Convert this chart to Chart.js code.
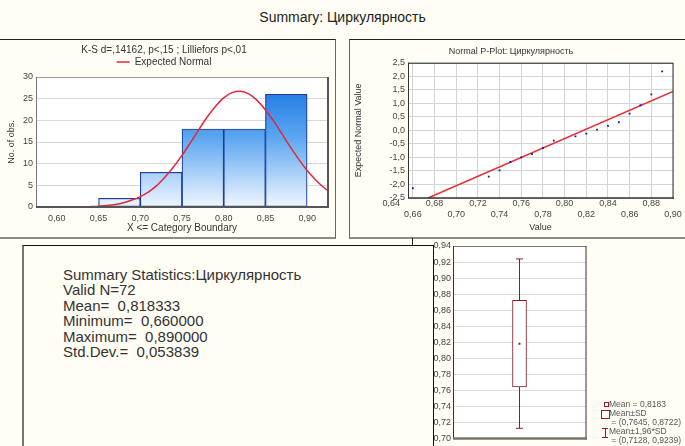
<!DOCTYPE html>
<html>
<head>
<meta charset="utf-8">
<title>Summary: Циркулярность</title>
<script src="https://cdn.jsdelivr.net/npm/chart.js@4.4.1/dist/chart.umd.min.js"></script>
<style>
  body { margin: 0; background: #fffdf4; font-family: "Liberation Sans", Arial, sans-serif; }
  #page { position: relative; width: 685px; height: 446px; overflow: hidden; background: #fffdf4; }
  .abs { position: absolute; }
  #mainTitle { left: 0; top: 9px; width: 685px; text-align: center; font-size: 14px; color: #222; }
  #panel1 { left: -2px; top: 39px; width: 337px; height: 197px; border-top: 1px solid #222; border-right: 1px solid #666; border-bottom: 2px solid #8c8c84; }
  #panel2 { left: 349px; top: 39px; width: 340px; height: 197px; border-top: 1px solid #222; border-left: 1px solid #666; border-bottom: 2px solid #8c8c84; }
  #boxTick { left: 412px; top: 238px; width: 0; height: 8px; border-left: 1px solid #222; }
  #statsPanel { left: 22px; top: 245px; width: 409px; height: 220px; background: #fffdf4; border-left: 2px solid #77776d; border-top: 1px solid #111; border-right: 1px solid #111; z-index: 2; }
  #statsText { position: absolute; left: 39px; top: 21px; font-size: 15px; line-height: 15.4px; color: #333; white-space: pre; }
  #boxLegend { left: 598px; top: 398px; width: 87px; height: 48px; font-size: 8.5px; color: #555; }
  .lg { position: absolute; left: 11px; line-height: 9px; white-space: pre; }
  .icMean { position: absolute; left: 6px; top: 4px; width: 3px; height: 3px; border: 1px solid #8b1c2c; }
  .icSD { position: absolute; left: 3px; top: 12px; width: 7px; height: 7px; border: 1px solid #8b1c2c; }
  .icCI { position: absolute; left: 4px; top: 30px; width: 6px; height: 8px; border-top: 1px solid #8b1c2c; border-bottom: 1px solid #8b1c2c; }
  .icCI::after { content: ""; position: absolute; left: 2.5px; top: 0; height: 8px; border-left: 1px solid #8b1c2c; }
  canvas { position: absolute; }
</style>
</head>
<body>
<div id="page">
  <div id="mainTitle" class="abs">Summary: Циркулярность</div>
  <div id="panel1" class="abs"></div>
  <div id="panel2" class="abs"></div>
  <div id="boxTick" class="abs"></div>

  <canvas id="histChart" width="335" height="197" style="left:0; top:40px;"></canvas>
  <canvas id="ppChart" width="336" height="197" style="left:349px; top:40px;"></canvas>
  <canvas id="boxChart" width="273" height="208" style="left:412px; top:238px;"></canvas>

  <div id="statsPanel" class="abs"><div id="statsText"></div></div>

  <div id="boxLegend" class="abs">
    <span class="icMean"></span>
    <span class="icSD"></span>
    <span class="icCI"></span>
  </div>
</div>

<script>
"use strict";

// Histogram (bins of width 0.05)
const histCenters = [0.675, 0.725, 0.775, 0.825, 0.875];
const histCounts = [2, 8, 18, 18, 26];
const histTicks = [0.60, 0.65, 0.70, 0.75, 0.80, 0.85, 0.90];
const histYTicks = [0, 5, 10, 15, 20, 25, 30];

// Expected normal curve
const normalX = [0.64, 0.65, 0.66, 0.67, 0.68, 0.69, 0.70, 0.71, 0.72, 0.73, 0.74, 0.75, 0.76, 0.77, 0.78, 0.79,
  0.80, 0.81, 0.82, 0.83, 0.84, 0.85, 0.86, 0.87, 0.88, 0.89, 0.90, 0.91, 0.92, 0.925];
const normalY = [0.1, 0.2, 0.35, 0.6, 1.0, 1.6, 2.4, 3.5, 5.0, 7.0, 9.3, 11.9, 14.8, 17.8, 20.7, 23.2,
  25.2, 26.4, 26.7, 26.1, 24.6, 22.4, 19.8, 16.8, 13.8, 11.0, 8.4, 6.3, 4.5, 3.8];

// Normal probability plot
const ppX = [0.66, 0.73, 0.74, 0.75, 0.76, 0.77, 0.78, 0.79, 0.81, 0.82, 0.83, 0.84, 0.85, 0.86, 0.87, 0.88, 0.89];
const ppY = [-2.14, -1.71, -1.48, -1.17, -1.0, -0.88, -0.65, -0.38, -0.22, -0.12, 0.03, 0.17, 0.30, 0.62, 0.93, 1.33, 2.18];
const fitX = [0.674, 0.90];
const fitY = [-2.5, 1.44];
const ppXTicks = [0.64, 0.66, 0.68, 0.70, 0.72, 0.74, 0.76, 0.78, 0.80, 0.82, 0.84, 0.86, 0.88, 0.90];
const ppYTicks = [-2.5, -2.0, -1.5, -1.0, -0.5, 0, 0.5, 1.0, 1.5, 2.0, 2.5];

// Box plot
const boxLabels = ["Циркулярность"];
const boxMean = 0.8183;
const boxSD = [0.7645, 0.8722];
const boxCI = [0.7128, 0.9239];
const boxTicks = [0.70, 0.72, 0.74, 0.76, 0.78, 0.80, 0.82, 0.84, 0.86, 0.88, 0.90, 0.92, 0.94];

// Summary statistics text
const statsLines = [
  "Summary Statistics:Циркулярность",
  "Valid N=72",
  "Mean=  0,818333",
  "Minimum=  0,660000",
  "Maximum=  0,890000",
  "Std.Dev.=  0,053839"
];

const ksText = "K-S d=,14162, p<,15 ; Lilliefors p<,01";

function fmt(v, d) {
  return v.toFixed(d).replace(".", ",");
}

Chart.defaults.font.family = '"Liberation Sans", Arial, sans-serif';
Chart.defaults.color = "#444";
Chart.defaults.animation = false;

// white plot background + frame with separate sides
const framePlugin = {
  id: "frame",
  beforeDraw(chart) {
    const a = chart.chartArea;
    const ctx = chart.ctx;
    ctx.save();
    ctx.fillStyle = "#ffffff";
    ctx.fillRect(a.left, a.top, a.right - a.left, a.bottom - a.top);
    ctx.restore();
  },
  afterDatasetsDraw(chart, args, opts) {
    const a = chart.chartArea;
    const ctx = chart.ctx;
    const side = (s, x1, y1, x2, y2) => {
      if (!s) return;
      ctx.beginPath();
      ctx.strokeStyle = s[0];
      ctx.lineWidth = s[1];
      ctx.moveTo(x1, y1);
      ctx.lineTo(x2, y2);
      ctx.stroke();
    };
    ctx.save();
    side(opts.top, a.left, a.top + 0.5, a.right, a.top + 0.5);
    side(opts.left, a.left + 0.5, a.top, a.left + 0.5, a.bottom);
    side(opts.right, a.right, a.top, a.right, a.bottom + 1);
    side(opts.bottom, a.left, a.bottom, a.right + 1, a.bottom);
    ctx.restore();
  }
};

function barGradient(context) {
  const chart = context.chart;
  const a = chart.chartArea;
  if (!a) return "#4a94ea";
  const g = chart.ctx.createLinearGradient(0, a.top, 0, a.bottom);
  g.addColorStop(0, "#1370e2");
  g.addColorStop(0.45, "#58a4f0");
  g.addColorStop(1, "#f0f7ff");
  return g;
}

/* HISTOGRAM */
new Chart(document.getElementById("histChart"), {
  type: "bar",
  data: {
    datasets: [
      {
        type: "line",
        label: "Expected Normal",
        data: normalX.map((x, i) => ({ x: x, y: normalY[i] })),
        borderColor: "#e0283c",
        borderWidth: 1.5,
        pointRadius: 0,
        pointStyle: "line",
        cubicInterpolationMode: "monotone",
        order: 0
      },
      {
        type: "bar",
        label: "No. of obs.",
        data: histCenters.map((x, i) => ({ x: x, y: histCounts[i] })),
        backgroundColor: barGradient,
        borderColor: "#1b3f9e",
        borderWidth: 1.2,
        borderSkipped: false,
        barPercentage: 1,
        categoryPercentage: 1,
        order: 1
      }
    ]
  },
  options: {
    responsive: false,
    layout: { padding: { right: 7 } },
    plugins: {
      title: { display: true, text: ksText, color: "#333", font: { size: 10, weight: "normal" }, padding: { top: 4, bottom: 0 } },
      legend: {
        display: true,
        labels: {
          filter: item => item.text === "Expected Normal",
          usePointStyle: true,
          pointStyleWidth: 13,
          padding: 1,
          color: "#333",
          font: { size: 10 }
        }
      },
      tooltip: { enabled: false },
      frame: { top: ["#9a9a9a", 1], left: ["#777", 1], right: ["#555", 2], bottom: ["#555", 2] }
    },
    scales: {
      x: {
        type: "linear",
        min: 0.575,
        max: 0.925,
        offset: false,
        afterBuildTicks: s => { s.ticks = histTicks.map(v => ({ value: v })); },
        afterFit: s => { s.height = 30; },
        grid: { display: false, offset: false, drawTicks: false },
        border: { display: false },
        ticks: { padding: 6, autoSkip: false, maxRotation: 0, font: { size: 9 }, callback: v => fmt(v, 2) },
        title: { display: true, text: "X <= Category Boundary", color: "#333", font: { size: 10 }, padding: { top: 0, bottom: 3 } }
      },
      y: {
        min: 0,
        max: 30,
        afterBuildTicks: s => { s.ticks = histYTicks.map(v => ({ value: v })); },
        afterFit: s => { s.width = 36; },
        grid: { color: "#d8d8d8", drawTicks: false },
        border: { display: false },
        ticks: { padding: 3, autoSkip: false, font: { size: 9 } },
        title: { display: true, text: "No. of obs.", color: "#333", font: { size: 9 }, padding: { top: 6, bottom: 0 } }
      }
    }
  },
  plugins: [framePlugin]
});

/* NORMAL P-PLOT */
new Chart(document.getElementById("ppChart"), {
  type: "scatter",
  data: {
    datasets: [
      {
        label: "fit",
        data: fitX.map((x, i) => ({ x: x, y: fitY[i] })),
        showLine: true,
        borderColor: "#e8303c",
        borderWidth: 1.6,
        pointRadius: 0,
        order: 1
      },
      {
        label: "Expected Normal Value",
        data: ppX.map((x, i) => ({ x: x, y: ppY[i] })),
        pointStyle: "rect",
        pointRadius: 1.3,
        backgroundColor: "#1a1aa0",
        borderColor: "#1a1aa0",
        borderWidth: 0,
        order: 0
      }
    ]
  },
  options: {
    responsive: false,
    layout: { padding: { right: 12 } },
    plugins: {
      legend: { display: false },
      tooltip: { enabled: false },
      title: { display: true, text: "Normal P-Plot: Циркулярность", color: "#333", font: { size: 9, weight: "normal" }, padding: { top: 6, bottom: 6 } },
      frame: { top: ["#333", 1], left: ["#333", 1], right: ["#333", 1], bottom: ["#333", 1.5] }
    },
    scales: {
      x: {
        type: "linear",
        min: 0.6555,
        max: 0.90,
        afterBuildTicks: s => { s.ticks = ppXTicks.map(v => ({ value: v })); },
        afterFit: s => { s.height = 39; },
        grid: { color: c => (c.tick && c.tick.value < 0.65 ? "rgba(0,0,0,0)" : "#d4d4d4"), drawTicks: false },
        border: { display: false },
        ticks: {
          padding: 0, autoSkip: false, maxRotation: 0, minRotation: 0, font: { size: 9 },
          callback: (v, i) => (i % 2 === 0 ? fmt(v, 2) : ["", fmt(v, 2)])
        },
        title: { display: true, text: "Value", color: "#333", font: { size: 9 }, padding: { top: 0, bottom: 4 } }
      },
      y: {
        min: -2.5,
        max: 2.5,
        afterBuildTicks: s => { s.ticks = ppYTicks.map(v => ({ value: v })); },
        afterFit: s => { s.width = 59; },
        grid: { color: "#d4d4d4", drawTicks: false },
        border: { display: false },
        ticks: { padding: 3, autoSkip: false, font: { size: 9 }, callback: v => fmt(v, 1) },
        title: { display: true, text: "Expected Normal Value", color: "#333", font: { size: 9 }, padding: { top: 4, bottom: 0 } }
      }
    }
  },
  plugins: [framePlugin]
});

/* BOX PLOT */
const boxColor = "#8b1c2c";
new Chart(document.getElementById("boxChart"), {
  type: "bar",
  data: {
    labels: boxLabels,
    datasets: [
      {
        type: "bar",
        label: "Mean±SD",
        data: [boxSD],
        backgroundColor: "#ffffff",
        borderColor: boxColor,
        borderWidth: 1,
        borderSkipped: false,
        barThickness: 14,
        order: 1
      },
      {
        type: "line",
        label: "Mean±1,96*SD",
        data: boxCI.map(y => ({ x: boxLabels[0], y: y })),
        borderColor: boxColor,
        borderWidth: 1,
        pointStyle: "line",
        pointRadius: 3.5,
        pointBorderWidth: 1,
        order: 2
      },
      {
        type: "line",
        label: "Mean",
        data: [{ x: boxLabels[0], y: boxMean }],
        showLine: false,
        pointStyle: "rect",
        pointRadius: 1.4,
        backgroundColor: boxColor,
        borderColor: boxColor,
        borderWidth: 0,
        order: 0
      }
    ]
  },
  options: {
    responsive: false,
    layout: { padding: { top: 8, right: 99, bottom: 4 } },
    plugins: {
      legend: { display: false },
      tooltip: { enabled: false },
      frame: { top: ["#777", 1], left: ["#333", 1], right: ["#333", 1], bottom: ["#77776d", 2.5] }
    },
    scales: {
      x: {
        grid: { display: false, drawTicks: false },
        border: { display: false },
        ticks: { display: false },
        afterFit: s => { s.height = 0; }
      },
      y: {
        min: 0.70,
        max: 0.94,
        afterBuildTicks: s => { s.ticks = boxTicks.map(v => ({ value: v })); },
        afterFit: s => { s.width = 41; },
        grid: { color: "#dcdcdc", drawTicks: false },
        border: { display: false },
        ticks: { padding: 2, autoSkip: false, font: { size: 9 }, callback: v => fmt(v, 2) }
      }
    }
  },
  plugins: [framePlugin]
});

// Summary statistics text block
document.getElementById("statsText").textContent = statsLines.join("\n");

// Box plot legend text
const legendRows = [
  "Mean = " + fmt(boxMean, 4),
  "Mean±SD",
  " = (" + fmt(boxSD[0], 4) + ", " + fmt(boxSD[1], 4) + ")",
  "Mean±1,96*SD",
  " = (" + fmt(boxCI[0], 4) + ", " + fmt(boxCI[1], 4) + ")"
];
const boxLegend = document.getElementById("boxLegend");
legendRows.forEach((text, i) => {
  let row = document.createElement("div");
  row.className = "lg";
  row.style.top = (1.5 + i * 9) + "px";
  row.textContent = text;
  boxLegend.appendChild(row);
});
</script>
</body>
</html>
